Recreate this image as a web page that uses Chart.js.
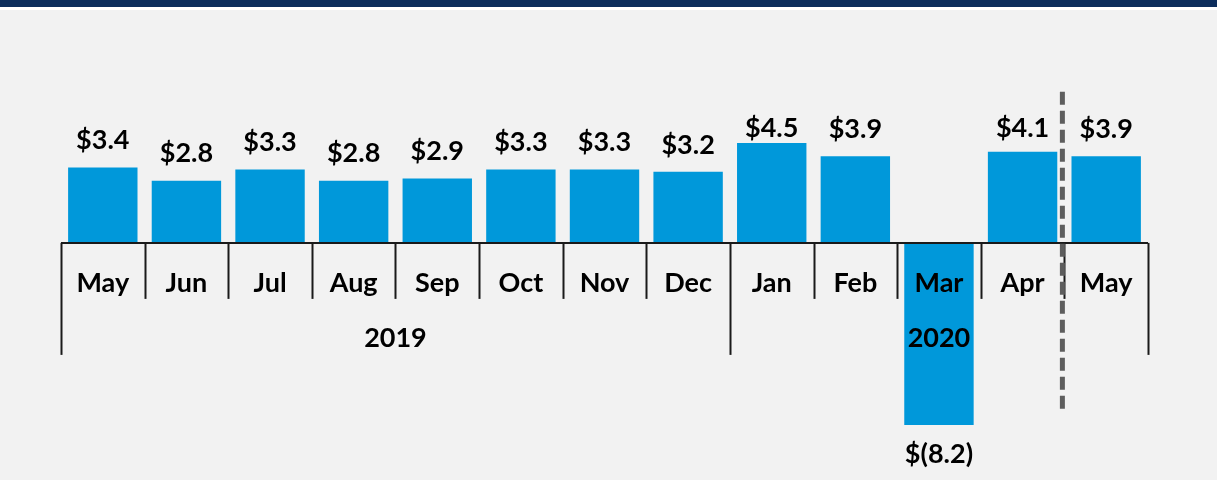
<!DOCTYPE html>
<html>
<head>
<meta charset="utf-8">
<script src="https://cdn.jsdelivr.net/npm/chart.js@4"></script>
<style>
  html, body { margin: 0; padding: 0; background: #f2f2f2; overflow: hidden; }
  #band { position: absolute; left: 0; top: 0; width: 1217px; height: 7px; background: #0c2d5c; }
  #gap { position: absolute; left: 0; top: 7px; width: 1217px; height: 3px; background: #ffffff; }
  #wrap { position: absolute; left: 0; top: 0; width: 1217px; height: 480px; }
</style>
</head>
<body>
<div id="wrap"><canvas id="c" width="1217" height="480"></canvas></div>
<div id="band"></div>
<div id="gap"></div>
<script>
// monthly values ($), Mar 2020 negative
const months = ['May', 'Jun', 'Jul', 'Aug', 'Sep', 'Oct', 'Nov', 'Dec', 'Jan', 'Feb', 'Mar', 'Apr', 'May'];
const values = [3.4, 2.8, 3.3, 2.8, 2.9, 3.3, 3.3, 3.2, 4.5, 3.9, -8.2, 4.1, 3.9];
const valueLabels = ['$3.4', '$2.8', '$3.3', '$2.8', '$2.9', '$3.3', '$3.3', '$3.2', '$4.5', '$3.9', '$(8.2)', '$4.1', '$3.9'];

// year groups (first / last month index)
const years = ['2019', '2020'];
const yearStart = [0, 8];
const yearEnd = [7, 12];

// dashed divider sits after this month index (Apr 2020)
const dividerAfter = 11;

const ink = '#1a1a1a';
const font = 'Lato, "Open Sans", sans-serif';

const overlay = {
    id: 'overlay',
    afterDatasetsDraw(chart) {
        const ctx = chart.ctx;
        const xs = chart.scales.x, ys = chart.scales.y;
        const y0 = ys.getPixelForValue(0);
        const half = (xs.getPixelForValue(1) - xs.getPixelForValue(0)) / 2;
        const edge = i => xs.getPixelForValue(i) - half;

        ctx.save();
        // axis line
        ctx.strokeStyle = ink; ctx.lineWidth = 2;
        ctx.beginPath();
        ctx.moveTo(edge(0), y0); ctx.lineTo(edge(months.length), y0);
        ctx.stroke();

        // separators, longer at the year boundaries
        const bounds = yearStart.concat([months.length]);
        for (let i = 0; i <= months.length; i++) {
            const x = Math.round(edge(i)) + 0.5;
            const len = bounds.includes(i) ? 112 : 56;
            ctx.beginPath(); ctx.moveTo(x, y0); ctx.lineTo(x, y0 + len); ctx.stroke();
        }

        // month labels
        ctx.fillStyle = '#000'; ctx.textAlign = 'center'; ctx.textBaseline = 'middle';
        ctx.font = 'bold 27px ' + font;
        months.forEach((m, i) => ctx.fillText(m, xs.getPixelForValue(i), y0 + 40));

        // year labels
        years.forEach((yr, k) => {
            const x = (edge(yearStart[k]) + edge(yearEnd[k] + 1)) / 2;
            ctx.fillText(yr, x, y0 + 95);
        });

        // value labels (tall bars' labels share a common top line)
        ctx.font = 'bold 27px ' + font;
        const cap = ys.getPixelForValue(5.15);
        const meta = chart.getDatasetMeta(0);
        meta.data.forEach((bar, i) => {
            const neg = values[i] < 0;
            const y = neg ? bar.y + 29 : Math.max(bar.y - 27, cap);
            ctx.fillText(valueLabels[i], bar.x, y);
        });

        // dashed divider
        const dx = edge(dividerAfter + 1) - 2;
        ctx.strokeStyle = '#5e5e5e'; ctx.lineWidth = 5;
        ctx.setLineDash([13, 6]);
        ctx.beginPath(); ctx.moveTo(dx, ys.getPixelForValue(6.8)); ctx.lineTo(dx, ys.getPixelForValue(-7.5)); ctx.stroke();
        ctx.restore();
    }
};

new Chart(document.getElementById('c'), {
    type: 'bar',
    data: {
        labels: months,
        datasets: [{ data: values, backgroundColor: '#0098da', borderWidth: 0,
                     categoryPercentage: 1, barPercentage: 0.83 }]
    },
    options: {
        responsive: false, animation: false,
        layout: { padding: { left: 61, right: 69, top: 43, bottom: 15 } },
        scales: {
            x: { display: false },
            y: { display: false, min: -10, max: 9 }
        },
        plugins: { legend: { display: false }, tooltip: { enabled: false } }
    },
    plugins: [overlay]
});
</script>
</body>
</html>
